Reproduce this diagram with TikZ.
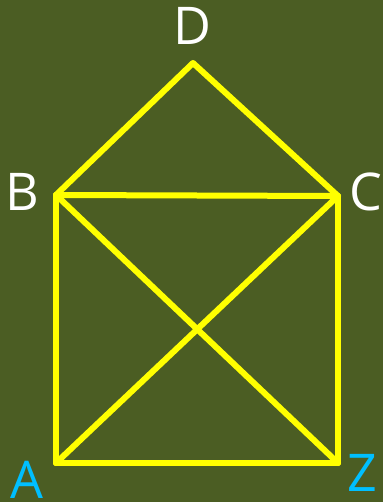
\documentclass[tikz,border=0pt]{standalone}
\usepackage{fontspec}
\setmainfont{Open Sans}
\definecolor{bg}{HTML}{4B5D23}
\definecolor{ln}{HTML}{FFFF00}
\definecolor{cy}{HTML}{00BFFF}
\begin{document}
\begin{tikzpicture}[x=1bp,y=-1bp,
  edge/.style={draw=ln,line width=6bp,line cap=round,line join=round},
  lbl/.style={anchor=base,inner sep=0pt,font=\fontsize{52bp}{60bp}\selectfont}]
\fill[bg] (0,0) rectangle (383,502);
\useasboundingbox (0,0) rectangle (383,502);
\coordinate (D) at (193,63);
\coordinate (B) at (56,195);
\coordinate (C) at (338,196);
\coordinate (A) at (56,463);
\coordinate (Z) at (338,463);
\draw[edge] (B) -- (D) -- (C);
\draw[edge] (B) -- (C);
\draw[edge] (B) -- (A);
\draw[edge] (C) -- (Z);
\draw[edge] (A) -- (Z);
\draw[edge] (B) -- (Z);
\draw[edge] (C) -- (A);
\node[lbl,text=white] (lD) at (192,45) {D};
\node[lbl,text=white] (lB) at (22,210) {B};
\node[lbl,text=white] (lC) at (366,210) {C};
\node[lbl,text=cy] (lA) at (27,498) {A};
\node[lbl,text=cy] (lZ) at (362,491) {Z};
\end{tikzpicture}
\end{document}
